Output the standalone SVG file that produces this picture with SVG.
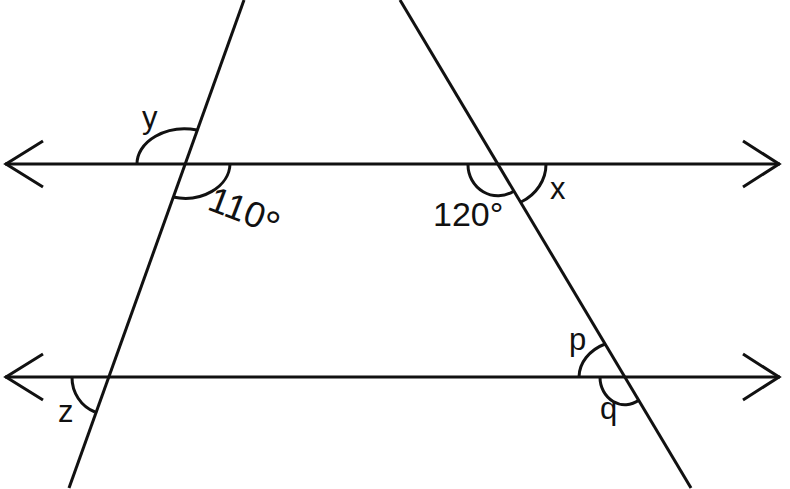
<svg xmlns="http://www.w3.org/2000/svg" width="790" height="489" viewBox="0 0 790 489">
<style>
.ln{stroke:#111;stroke-width:3;fill:none;stroke-linecap:butt;stroke-linejoin:miter}
.lb{font-family:"Liberation Sans",Arial,sans-serif;fill:#111}
</style>
<rect width="790" height="489" fill="#fff"/>
<g id="lines">
<line class="ln" x1="5" y1="164" x2="780" y2="164"/>
<polyline class="ln" points="43,141 6,164 43,187"/>
<polyline class="ln" points="743,141 779,164 743,187"/>
<line class="ln" x1="5" y1="377" x2="780" y2="377"/>
<polyline class="ln" points="43,354 6,377 43,400"/>
<polyline class="ln" points="743,354 779,377 743,400"/>
<line class="ln" x1="244" y1="0" x2="69" y2="488"/>
<line class="ln" x1="400" y1="0" x2="691" y2="488"/>
</g>
<g id="arcs">
<path class="ln" d="M137,164 A48,35 0 0 1 197,130"/>
<path class="ln" d="M230,164 A45,35 0 0 1 173,197"/>
<path class="ln" d="M468,164 A30,31 0 0 0 514,191"/>
<path class="ln" d="M546,164 A48,43 0 0 1 521,202"/>
<path class="ln" d="M579,377 A46,37 0 0 1 605,344"/>
<path class="ln" d="M600,377 A25,27.5 0 0 0 639,400"/>
<path class="ln" d="M72,377 A36,37 0 0 0 95,412"/>
</g>
<g id="labels">
<text class="lb" x="142" y="128" font-size="31">y</text>
<text class="lb" x="550" y="199" font-size="31">x</text>
<text class="lb" x="569" y="350" font-size="31">p</text>
<text class="lb" x="600" y="419" font-size="31">q</text>
<text class="lb" x="58" y="422" font-size="31">z</text>
<text class="lb" x="433" y="226" font-size="34">120°</text>
<text class="lb" x="206" y="209" font-size="36" transform="rotate(21 206 209)">110<tspan dy="7" font-size="42">°</tspan></text>
</g>
</svg>
